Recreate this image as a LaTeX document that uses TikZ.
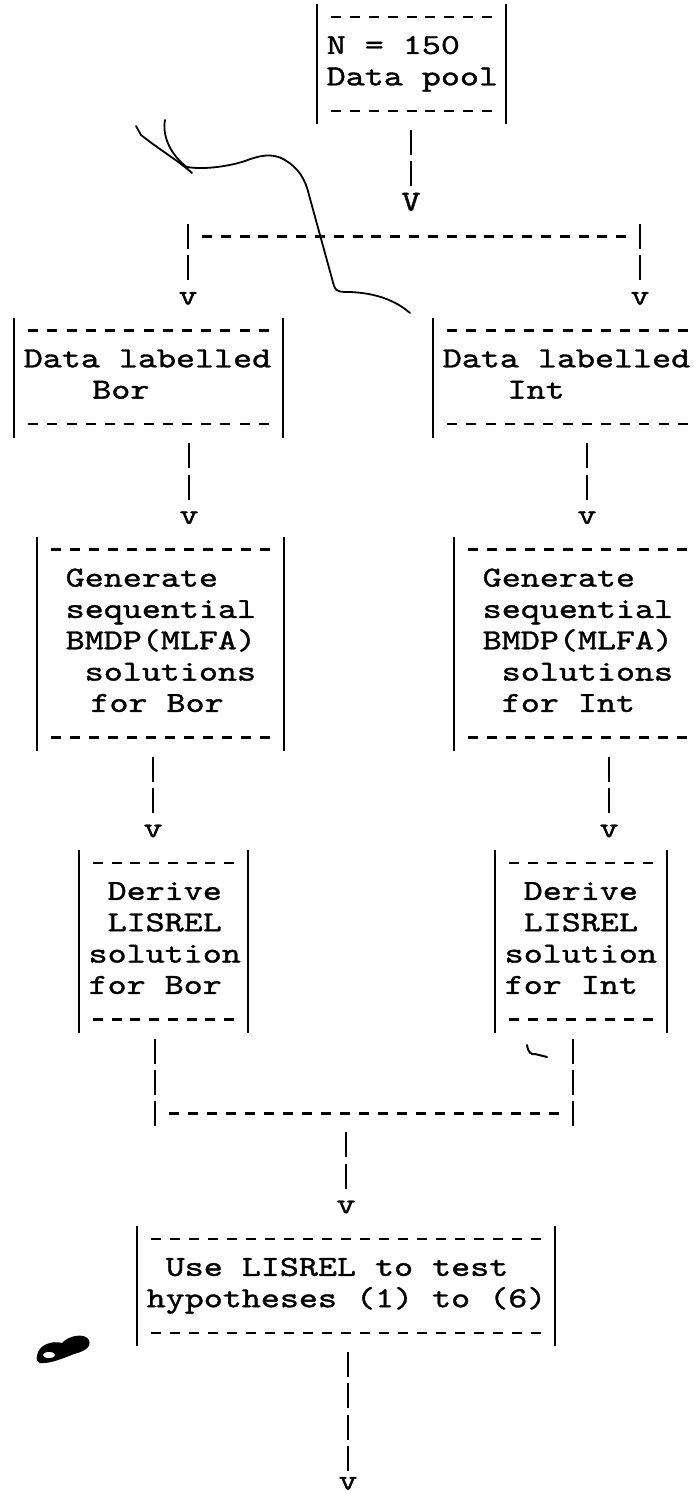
\documentclass[tikz,border=0pt]{standalone}
\usepackage{fontspec}
\newfontfamily\tw{lmmono10-regular.otf}[FakeStretch=1.25,FakeBold=1.2]
\usetikzlibrary{fit}
\newlength\cw
\newcommand\sk[1][1]{\hspace*{#1\cw}}
\newcommand\tlines[1]{{\tw\fontsize{29}{31.33}\selectfont\settowidth\cw{x}\spaceskip=\cw\relax
  \vtop{\baselineskip=31.33pt\lineskiplimit=-100pt\lineskip=0pt\relax #1}}}
% box frame: name, left x, right x, top row, bottom row, number of cells
\newcommand\tbox[6]{%
  \pgfmathsetmacro\pp{(#3-#2)/#6}%
  \pgfmathsetmacro\qq{\pp-10}%
  \pgfmathsetmacro\ha{#2+\pp-5}%
  \pgfmathsetmacro\hb{#3-\pp+5}%
  \coordinate (#1-nw) at (#2,#4-0.4);
  \coordinate (#1-se) at (#3,#5+0.42);
  \node[fit=(#1-nw)(#1-se),inner sep=0pt] (#1) {};
  \draw[barline] (#1.north west) -- (#1.south west) (#1.north east) -- (#1.south east);
  \draw[hyph,dash pattern=on 10pt off \qq pt] (\ha,#4) -- (\hb,#4) (\ha,#5) -- (\hb,#5);
}
\newcommand\hyphrow[4]{% left x, right x, row, cells
  \pgfmathsetmacro\pp{(#2-#1)/#4}%
  \pgfmathsetmacro\qq{\pp-10}%
  \pgfmathsetmacro\ha{#1+\pp-5}%
  \pgfmathsetmacro\hb{#2-\pp+5}%
  \draw[hyph,dash pattern=on 10pt off \qq pt] (\ha,#3) -- (\hb,#3);
}
\begin{document}
\begin{tikzpicture}[x=1pt,y=-31.33pt,
  barline/.style={line width=2.4pt},
  hyph/.style={line width=2.4pt},
  conn/.style={line width=2.4pt,dash pattern=on 25pt off 6.33pt},
  boxtxt/.style={anchor=base west,inner sep=0pt},
  arrv/.style={anchor=base,inner sep=0pt,font=\tw\fontsize{29}{31.33}\selectfont},
  hair/.style={line width=1.8pt,line cap=round,line join=round}]
\fill[white] (0,-0.5426) rectangle (696,47.2706);
\useasboundingbox (0,-0.5426) rectangle (696,47.2706);
\clip (0,-0.5426) rectangle (696,47.2706);

% ---- boxes ----
\tbox{top}{317}{506}{0}{3}{10}
\node[boxtxt] (top-t) at (326.5,1.18) {\tlines{\hbox{N = 150}\hbox{Data pool}}};

\tbox{dBor}{14}{283}{10}{13}{14}
\node[boxtxt] (dBor-t) at (23.6,11.18) {\tlines{\hbox{Data labelled}\hbox{\sk[3.6]Bor}}};

\tbox{dInt}{433}{702}{10}{13}{14}
\node[boxtxt] (dInt-t) at (442.6,11.18) {\tlines{\hbox{Data labelled}\hbox{\sk[3.4]Int}}};

\tbox{gBor}{37}{284}{17}{23}{13}
\node[boxtxt] (gBor-t) at (46.5,18.18) {\tlines{\hbox{\sk Generate}\hbox{\sk sequential}\hbox{\sk BMDP(MLFA)}\hbox{\sk[2]solutions}\hbox{\sk[2.3]for Bor}}};

\tbox{gInt}{454}{701}{17}{23}{13}
\node[boxtxt] (gInt-t) at (463.5,18.18) {\tlines{\hbox{\sk Generate}\hbox{\sk sequential}\hbox{\sk BMDP(MLFA)}\hbox{\sk[2]solutions}\hbox{\sk[2]for Int}}};

\tbox{eBor}{79}{248}{27}{32}{9}
\node[boxtxt] (eBor-t) at (88.4,28.18) {\tlines{\hbox{\sk Derive}\hbox{\sk LISREL}\hbox{solution}\hbox{for Bor}}};

\tbox{eInt}{495}{667}{27}{32}{9}
\node[boxtxt] (eInt-t) at (504.5,28.18) {\tlines{\hbox{\sk Derive}\hbox{\sk LISREL}\hbox{solution}\hbox{for Int}}};

\tbox{use}{137}{555}{39}{42}{22}
\node[boxtxt] (use-t) at (146.5,40.18) {\tlines{\hbox{\sk Use LISREL to test}\hbox{hypotheses (1) to (6)}}};

% ---- arrow heads ----
\node[arrv] (v0) at (411,6.18) {V};
\node[arrv] (vL) at (188,9.18) {v};
\node[arrv] (vR) at (640,9.18) {v};
\node[arrv] (v1) at (189,16.18) {v};
\node[arrv] (v2) at (587,16.18) {v};
\node[arrv] (v3) at (153,26.18) {v};
\node[arrv] (v4) at (609,26.18) {v};
\node[arrv] (v5) at (346,38.18) {v};
\node[arrv] (v6) at (348,47.0) {v};

% ---- connectors ----
\draw[conn,shorten <=5.6pt,shorten >=6.2pt] (top.south -| v0) -- (v0.north);
% split
\coordinate (sL) at (188,6.6);
\coordinate (sR) at (640,6.6);
\hyphrow{188}{640}{7}{24}
\draw[conn,shorten >=11.3pt] (sL) -- (vL.north);
\draw[conn,shorten >=11.3pt] (sR) -- (vR.north);

\draw[conn,shorten <=5.6pt,shorten >=11.3pt] (dBor.south -| v1) -- (v1.north);
\draw[conn,shorten <=5.6pt,shorten >=11.3pt] (dInt.south -| v2) -- (v2.north);
\draw[conn,shorten <=5.6pt,shorten >=11.3pt] (gBor.south -| v3) -- (v3.north);
\draw[conn,shorten <=5.6pt,shorten >=11.3pt] (gInt.south -| v4) -- (v4.north);

% merge
\coordinate (mL) at (155,35.42);
\coordinate (mR) at (573,35.42);
\coordinate (mC) at (346,35.42);
\draw[conn,shorten <=5.6pt] (eBor.south -| mL) -- (mL);
\draw[conn,shorten <=5.6pt] (eInt.south -| mR) -- (mR);
\hyphrow{155}{573}{35}{22}
\draw[conn,shorten <=5.6pt,shorten >=11.3pt] (mC) -- (v5.north);

\draw[conn,shorten <=5.6pt,shorten >=6pt] (use.south -| v6) -- (v6.north);

% ---- scan marks (pixel coordinates) ----
\begin{scope}[x=1pt,y=-1pt,yshift=17pt]
  \draw[hair] (136,126) -- (141,135) .. controls (160,150) and (180,162) .. (192,173);
  \draw[hair] (165,120) .. controls (162,135) and (170,155) .. (188,168);
  \draw[hair] (187,167) .. controls (205,170) and (230,166) .. (245,161)
     .. controls (258,156) and (272,152) .. (285,160)
     .. controls (298,168) and (305,178) .. (309,195)
     -- (334,286) .. controls (336,292) and (340,292) .. (350,292)
     .. controls (375,293) and (395,300) .. (410,313);
  \fill (37,1356) .. controls (38,1345) and (52,1340) .. (62,1343)
     .. controls (68,1336) and (84,1332) .. (89,1340)
     .. controls (92,1348) and (82,1352) .. (74,1354)
     .. controls (64,1358) and (50,1364) .. (40,1363)
     .. controls (37,1362) and (36,1359) .. (37,1356) -- cycle;
  \fill[white] (49,1355) ellipse (6 and 3);
  \draw[line width=2pt,line cap=round] (527,1045) .. controls (528,1052) and (531,1055) .. (535,1054) -- (547,1057);
\end{scope}
\end{tikzpicture}
\end{document}
